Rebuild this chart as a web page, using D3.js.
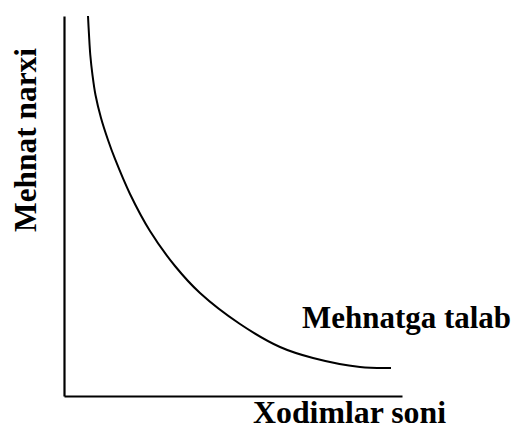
<!DOCTYPE html>
<html>
<head>
<meta charset="utf-8">
<script src="https://cdn.jsdelivr.net/npm/d3@7"></script>
<style>
  html, body { margin: 0; padding: 0; background: #fff; }
  svg { display: block; }
</style>
</head>
<body>
<svg id="chart" width="519" height="431"></svg>
<script>
// Demand-for-labour curve (quantity 0-100, price 0-100)
const quantity = [7.10, 7.40, 7.78, 8.43, 9.32, 10.95, 13.02, 15.09, 19.53, 25.44, 32.84, 40.24, 52.07, 63.91, 73.67, 87.57, 96.75];
const price    = [100, 95.0, 89.74, 84.47, 79.21, 73.16, 67.37, 62.37, 53.16, 43.42, 34.21, 27.11, 18.95, 12.89, 10.0, 7.63, 7.37];
const xLabel = "Xodimlar soni";
const yLabel = "Mehnat narxi";
const curveLabel = "Mehnatga talab";

const FONT = "'Liberation Serif', 'DejaVu Serif', 'Noto Serif', FreeSerif, Times, serif";

const svg = d3.select("#chart");
const x = d3.scaleLinear().domain([0, 100]).range([64, 402]);
const y = d3.scaleLinear().domain([0, 100]).range([396, 16]);

// axes (no ticks)
svg.append("g")
  .attr("transform", `translate(0,${y(0)})`)
  .call(d3.axisBottom(x).tickValues([]).tickSizeOuter(0))
  .call(g => g.select(".domain").attr("stroke", "#000").attr("stroke-width", 2.2));
svg.append("g")
  .attr("transform", `translate(${x(0)},0)`)
  .call(d3.axisLeft(y).tickValues([]).tickSizeOuter(0))
  .call(g => g.select(".domain").attr("stroke", "#000").attr("stroke-width", 2.2));

const pts = quantity.map((q, i) => [q, price[i]]);
const line = d3.line()
  .x(d => x(d[0]))
  .y(d => y(d[1]))
  .curve(d3.curveCatmullRom.alpha(0.5));

svg.append("path")
  .datum(pts)
  .attr("fill", "none")
  .attr("stroke", "#000")
  .attr("stroke-width", 2)
  .attr("d", line);

function label(sel, len) {
  return sel.attr("font-family", FONT)
    .style("font-family", FONT)
    .attr("font-weight", "bold")
    .attr("font-size", 31)
    .attr("textLength", len)
    .attr("lengthAdjust", "spacingAndGlyphs")
    .attr("fill", "#000");
}

svg.append("text")
  .attr("x", 302).attr("y", 328)
  .call(label, 209)
  .text(curveLabel);

svg.append("text")
  .attr("x", 253).attr("y", 423)
  .call(label, 193)
  .text(xLabel);

svg.append("text")
  .attr("transform", "translate(36,232) rotate(-90)")
  .call(label, 184)
  .text(yLabel);
</script>
</body>
</html>
